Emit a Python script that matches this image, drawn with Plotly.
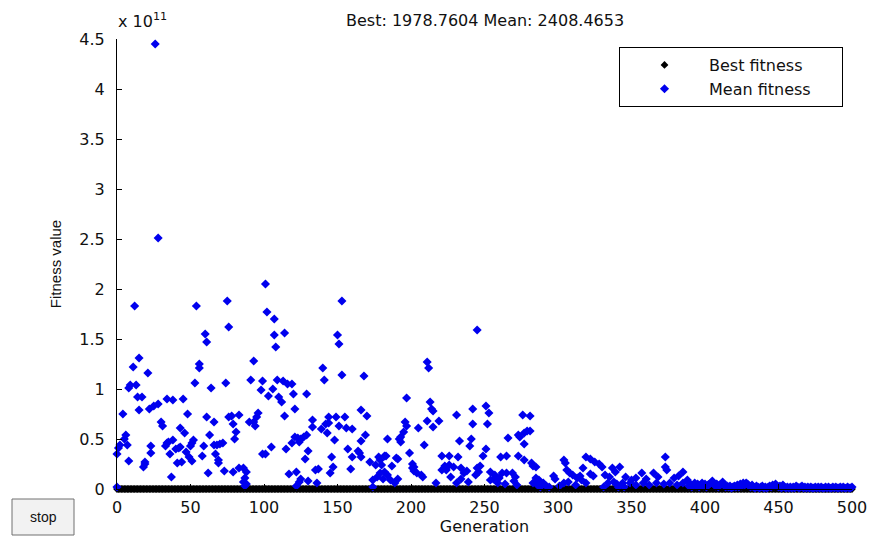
import plotly.graph_objects as go

# ---- data (fitness values in units of 1e11) ----
title_best = "1978.7604"
title_mean = "2408.4653"
exponent_label = "x 10<sup>11</sup>"

generations = list(range(0, 501))
# every best-fitness point sits on the zero line at this scale
best_fitness_e11 = [0.0] * len(generations)

mean_pts_a = [(0,0.02),(0,0.35),(1,0.41),(2,0.44),(4,0.75),(5,0.50),(6,0.54),(7,0.44),(8,0.28),(8,1.01),
    (9,1.04),(11,1.22),(12,1.83),(13,1.04),(14,0.92),(15,1.31),(15,0.79),(17,0.92),(18,0.22),(19,0.25),
    (19,0.27),(21,1.16),(22,0.80),(23,0.43),(23,0.36),(25,0.83),(26,4.45),(28,0.85),(28,2.51),(30,0.67),
    (31,0.63),(33,0.43),(34,0.46),(34,0.90),(35,0.47),(36,0.35),(37,0.12),(38,0.89),(38,0.49),(40,0.40),
    (41,0.26),(42,0.41),(43,0.61),(43,0.42),(44,0.27),(45,0.90),(46,0.56),(47,0.37),(48,0.75),(49,0.32),
    (50,0.43),(51,0.46),(51,0.28),(52,0.49),(53,1.06),(54,1.83),(56,1.25),(56,1.21),(58,0.33),(59,0.43),
    (60,1.55),(61,1.47),(61,0.72),(62,0.16),(63,0.54),(64,1.01),(66,0.67),(66,0.44),(67,0.35),(68,0.44),
    (69,0.29),(69,0.26),(70,0.45),(72,0.46),(73,0.18),(74,1.06),(75,1.88),(76,1.62),(76,0.72),(78,0.73),
    (79,0.17)]

mean_pts_b = [(79,0.65),(80,0.50),(81,0.57),(83,0.74),(83,0.21),(86,0.21),(88,0.17),(87,0.11),(86,0.07),
    (87,0.03),(88,0.05),(90,0.67),(91,1.09),(93,1.28),(93,0.67),(94,0.63),(95,0.72),(96,0.76),(98,0.99),
    (99,1.08),(99,0.35),(101,2.05),(101,0.35),(102,1.77),(103,0.93),(105,0.42),(106,1.00),(107,1.70),
    (107,1.54),(108,1.42),(109,1.09),(110,0.92),(112,0.87),(113,1.08),(114,1.56),(114,0.73),(115,0.40),
    (116,1.05),(117,0.15),(119,0.46),(119,1.05),(120,0.95),(121,0.80),(122,0.17),(122,0.03),(123,0.51),
    (121,0.52),(124,0.47),(125,0.50),(127,0.52),(129,0.54),(129,0.95),(130,0.38),(128,0.30),(124,0.07),
    (125,0.10),(130,0.08),(133,0.69),(133,0.62),(135,0.19),(136,0.06),(137,0.20),(139,0.60),(140,1.21),
    (141,1.09),(142,0.65),(143,0.56),(144,0.66),(144,0.72),(145,0.16)]

mean_pts_c = [(146,0.32),(147,0.22),(148,0.49),(149,0.72),(150,1.54),(151,1.45),(151,0.63),(153,1.88),
    (153,1.14),(155,0.72),(156,0.61),(157,0.40),(159,0.20),(160,0.60),(160,0.32),(164,0.38),(165,0.36),
    (166,0.79),(166,0.48),(166,0.32),(168,1.13),(169,0.54),(170,0.73),(172,0.27),(174,0.09),(174,0.02),
    (176,0.24),(177,0.12),(179,0.16),(179,0.29),(178,0.32),(182,0.33),(191,0.30),(193,0.52),(180,0.24),
    (181,0.10),(182,0.17),(183,0.33),(184,0.14),(184,0.50),(186,0.09),(187,0.23),(189,0.06),(190,0.31),
    (191,0.10),(192,0.50),(193,0.47),(195,0.57),(196,0.67),(197,0.63),(197,0.91),(199,0.36),(201,0.25),
    (201,0.21),(202,0.18),(202,0.22),(204,0.16),(205,0.61),(207,0.14),(208,0.12),(209,0.44),(211,0.68)]

mean_pts_d = [(211,1.27),(212,1.21),(213,0.87),(214,0.80),(215,0.62),(215,0.78),(217,0.06),(219,0.68),
    (221,0.33),(221,0.19),(223,0.23),(224,0.19),(226,0.33),(226,0.24),(227,0.12),(229,0.22),(231,0.74),
    (231,0.06),(232,0.32),(233,0.48),(234,0.21),(234,0.10),(236,0.16),(238,0.18),(239,0.07),(240,0.43),
    (241,0.50),(242,0.80),(242,0.65),(244,0.14),(245,0.21),(245,1.59),(246,0.17),(247,0.23),(249,0.33),
    (251,0.83),(251,0.40),(252,0.65),(253,0.76),(254,0.17),(254,0.09),(256,0.10),(257,0.14),(259,0.06),
    (260,0.11),(261,0.32),(262,0.16),(264,0.05),(265,0.33),(265,0.16),(266,0.51),(269,0.16),(270,0.08),
    (271,0.12),(272,0.04),(273,0.33),(273,0.54),(274,0.52),(276,0.74),(277,0.56),(277,0.45),(277,0.29)]

mean_pts_e = [(279,0.58),(281,0.73),(281,0.58),(282,0.26),(283,0.23),(283,0.06),(285,0.07),(285,0.22),
    (285,0.11),(286,0.04),(287,0.09),(288,0.02),(290,0.06),(292,0.03),(294,0.02),(297,0.13),(298,0.10),
    (301,0.03),(304,0.29),(304,0.06),(305,0.26),(306,0.19),(307,0.07),(308,0.16),(310,0.14),(312,0.04),
    (313,0.11),(315,0.13),(316,0.09),(317,0.21),(319,0.32),(319,0.06),(322,0.30),(322,0.15),(324,0.13),
    (325,0.27),(328,0.25),(330,0.22),(331,0.02),(332,0.14),(334,0.06),(335,0.12),(337,0.21),(338,0.07),
    (339,0.17),(340,0.05),(341,0.02)]

mean_pts_f = [(342,0.22),(344,0.06),(345,0.02),(346,0.12),(349,0.06),(350,0.09),(353,0.11),(353,0.04),
    (357,0.16),(358,0.06),(360,0.10),(362,0.04),(365,0.16),(367,0.06),(368,0.12),(372,0.05),(373,0.32),
    (373,0.22),(374,0.19),(376,0.06),(379,0.11),(381,0.04),(382,0.13),(385,0.17),(385,0.06),(388,0.09)]

late_start = 389
mean_late = [0.03,0.05,0.02,0.04,0.06,0.03,0.05,0.02,0.04,0.06,
             0.03,0.05,0.02,0.04,0.05,0.06,0.08,0.05,0.03,0.05,
             0.02,0.04,0.05,0.07,0.04,0.02,0.03,0.02,0.03,0.01,
             0.02,0.03,0.02,0.04,0.02,0.05,0.03,0.06,0.04,0.06,
             0.05,0.03,0.02,0.04,0.02,0.01,0.03,0.02,0.01,0.02,
             0.03,0.01,0.02,0.01,0.02,0.03,0.02,0.04,0.03,0.05,
             0.03,0.02,0.03,0.01,0.04,0.02,0.01,0.02,0.01,0.02,
             0.01,0.02,0.01,0.03,0.02,0.01,0.02,0.03,0.01,0.02,
             0.01,0.02,0.01,0.02,0.01,0.01,0.02,0.01,0.02,0.01,
             0.02,0.01,0.01,0.02,0.01,0.02,0.01,0.01,0.02,0.01,
             0.02,0.01,0.01,0.02,0.01,0.02,0.01,0.01,0.02,0.01,
             0.01,0.02]

y_ticks = [0, 0.5, 1, 1.5, 2, 2.5, 3, 3.5, 4, 4.5]
y_tick_text = ["0", "0.5", "1", "1.5", "2", "2.5", "3", "3.5", "4", "4.5"]
x_ticks = [0, 50, 100, 150, 200, 250, 300, 350, 400, 450, 500]

# ---- build ----
mean_pts = mean_pts_a + mean_pts_b + mean_pts_c + mean_pts_d + mean_pts_e + mean_pts_f
mean_x = [p[0] for p in mean_pts] + [late_start + i for i in range(len(mean_late))]
mean_y = [p[1] for p in mean_pts] + mean_late

FONT = "DejaVu Sans, Liberation Sans, Arial, sans-serif"
FONT_NARROW = "Liberation Sans, Arial, sans-serif"
W, H = 869, 537
L, R, T, B = 117, 17, 39, 48
pw, ph = W - L - R, H - T - B

def px_x(px):
    return (px - L) / pw

def px_y(py):
    return (H - B - py) / ph

NB = "\u00a0"

fig = go.Figure()
fig.add_trace(go.Scatter(
    x=generations, y=best_fitness_e11, mode="markers", name="Best fitness" + NB * 5,
    marker=dict(symbol="diamond", size=6, color="#000000", line=dict(width=0)),
    cliponaxis=False))
fig.add_trace(go.Scatter(
    x=mean_x, y=mean_y, mode="markers", name="Mean fitness" + NB * 5,
    marker=dict(symbol="diamond", size=7, color="#0000ee", line=dict(width=0)),
    cliponaxis=False))

fig.update_layout(
    width=W, height=H,
    margin=dict(l=L, r=R, t=T, b=B, pad=0, autoexpand=False),
    paper_bgcolor="white", plot_bgcolor="white",
    font=dict(family=FONT, size=16, color="#111111"),
    showlegend=True,
    legend=dict(
        x=px_x(843), y=px_y(47), xanchor="right", yanchor="top",
        bordercolor="#000000", borderwidth=1, bgcolor="white",
        font=dict(family=FONT, size=16, color="#111111"),
        itemsizing="trace", itemwidth=79, tracegroupgap=0,
    ),
    xaxis=dict(
        range=[0, 500], tickvals=x_ticks, ticks="inside", ticklen=5, automargin=False,
        tickcolor="#000000", showline=True, linecolor="#000000", linewidth=1,
        showgrid=False, zeroline=False, mirror=False, ticklabelstandoff=4,
        tickfont=dict(family=FONT, size=16, color="#111111"),
        title=dict(text="Generation", font=dict(family=FONT, size=16), standoff=2),
    ),
    yaxis=dict(
        range=[0, 4.5], tickvals=y_ticks, ticktext=y_tick_text, ticks="inside", automargin=False,
        ticklen=5, tickcolor="#000000", showline=True, linecolor="#000000",
        linewidth=1, showgrid=False, zeroline=False, mirror=False, ticklabelstandoff=8,
        tickfont=dict(family=FONT, size=16, color="#111111"),
        title=dict(text="Fitness value", font=dict(family=FONT_NARROW, size=15), standoff=14),
    ),
)

fig.add_annotation(
    text="Best: %s Mean: %s" % (title_best, title_mean),
    xref="paper", yref="paper", x=0.5, y=px_y(20), xanchor="center", yanchor="middle",
    showarrow=False, font=dict(family=FONT, size=16, color="#111111"))
fig.add_annotation(
    text=exponent_label, xref="paper", yref="paper", x=px_x(116), y=px_y(21),
    xanchor="left", yanchor="middle", showarrow=False,
    font=dict(family=FONT, size=16, color="#111111"))

# stop button (figure chrome)
fig.add_shape(type="rect", xref="paper", yref="paper",
              x0=px_x(12), x1=px_x(74), y0=px_y(535), y1=px_y(499),
              line=dict(color="#707070", width=1), fillcolor="#f2f2f2", layer="above")
fig.add_annotation(text="stop", xref="paper", yref="paper", x=px_x(43), y=px_y(517),
                   xanchor="center", yanchor="middle", showarrow=False,
                   font=dict(family=FONT_NARROW, size=14, color="#111111"))

fig.write_html("out.html", config={"displayModeBar": False},
               post_script="document.body.style.margin='0';document.body.style.overflow='hidden';")
